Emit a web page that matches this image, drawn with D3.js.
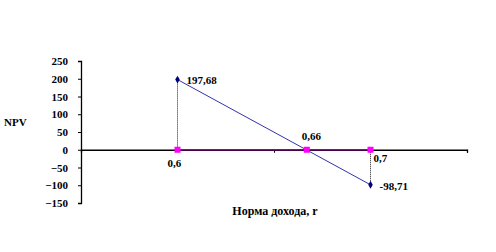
<!DOCTYPE html>
<html>
<head>
<meta charset="utf-8">
<script src="https://cdn.jsdelivr.net/npm/d3@7"></script>
<style>
  body { margin: 0; background: #fff; }
  svg text { font-family: "Times New Roman", "Liberation Serif", "DejaVu Serif", serif !important; font-weight: bold; font-size: 11px; fill: #000; }
</style>
</head>
<body>
<div id="chart"></div>
<script>
// rates and NPV values
var rates = [0.6, 0.7];
var rateLabels = ["0,6", "0,7"];
var npv = [197.68, -98.71];
var npvLabels = ["197,68", "-98,71"];
var irr = 0.667;
var irrLabel = "0,66";
var yTicks = [250, 200, 150, 100, 50, 0, -50, -100, -150];
var xTicks = [0.55, 0.65, 0.75];

var svgWidth = 496, svgHeight = 252;

var svg = d3.select("#chart").append("svg")
    .attr("width", svgWidth)
    .attr("height", svgHeight);

var x = d3.scaleLinear().domain([0.55, 0.75]).range([81, 467]);
var y = d3.scaleLinear().domain([-150, 250]).range([203, 61]);

// y axis
var yAxis = svg.append("g")
    .attr("transform", "translate(81,0)")
    .call(d3.axisLeft(y).tickValues(yTicks).tickSize(3).tickPadding(10).tickFormat(d3.format("d")));
yAxis.select(".domain").attr("stroke", "#000").attr("stroke-width", 1.3);

// x axis at zero
var xAxis = svg.append("g")
    .attr("transform", "translate(0," + y(0) + ")")
    .call(d3.axisBottom(x).tickValues(xTicks).tickSize(3).tickFormat(""));
xAxis.select(".domain").attr("stroke", "#000").attr("stroke-width", 1.3);

// drop lines
svg.append("line")
    .attr("x1", x(rates[0])).attr("x2", x(rates[0]))
    .attr("y1", y(npv[0])).attr("y2", y(0))
    .attr("stroke", "#222").attr("stroke-dasharray", "1,1");
svg.append("line")
    .attr("x1", x(rates[1])).attr("x2", x(rates[1]))
    .attr("y1", y(0)).attr("y2", y(npv[1]))
    .attr("stroke", "#222").attr("stroke-dasharray", "1,1");

// zero series
svg.append("line")
    .attr("x1", x(rates[0])).attr("x2", x(rates[1]))
    .attr("y1", y(0)).attr("y2", y(0))
    .attr("stroke", "#990099").attr("stroke-width", 1.5);

// NPV line
var line = d3.line().x((d, i) => x(rates[i])).y(d => y(d));
svg.append("path")
    .datum(npv)
    .attr("d", line)
    .attr("fill", "none")
    .attr("stroke", "#3333aa")
    .attr("stroke-width", 1);

// magenta squares
var sq = rates.concat([irr]);
svg.selectAll("rect.sq")
    .data(sq)
    .enter()
    .append("rect")
    .attr("class", "sq")
    .attr("x", d => x(d) - 3)
    .attr("y", y(0) - 3)
    .attr("width", 6)
    .attr("height", 6)
    .attr("fill", "#ff00ff");

// NPV markers
svg.selectAll("path.dm")
    .data(npv)
    .enter()
    .append("path")
    .attr("class", "dm")
    .attr("d", d3.symbol().type(d3.symbolDiamond).size(18))
    .attr("transform", (d, i) => "translate(" + x(rates[i]) + "," + y(d) + ")")
    .attr("fill", "#000080");

// labels
svg.append("text").attr("x", x(rates[0]) + 9).attr("y", y(npv[0]) + 4).text(npvLabels[0]);
svg.append("text").attr("x", x(rates[1]) + 9).attr("y", y(npv[1]) + 5).text(npvLabels[1]);
svg.append("text").attr("x", x(rates[0]) - 10).attr("y", y(0) + 17).text(rateLabels[0]);
svg.append("text").attr("x", x(rates[1]) + 3).attr("y", y(0) + 12).text(rateLabels[1]);
svg.append("text").attr("x", x(irr) - 5).attr("y", y(0) - 10).text(irrLabel);

svg.append("text").attr("x", 4).attr("y", 126).text("NPV");
svg.append("text").attr("x", 275).attr("y", 215).attr("text-anchor", "middle")
    .style("font-size", "12px").text("Норма дохода,  r");
</script>
</body>
</html>
